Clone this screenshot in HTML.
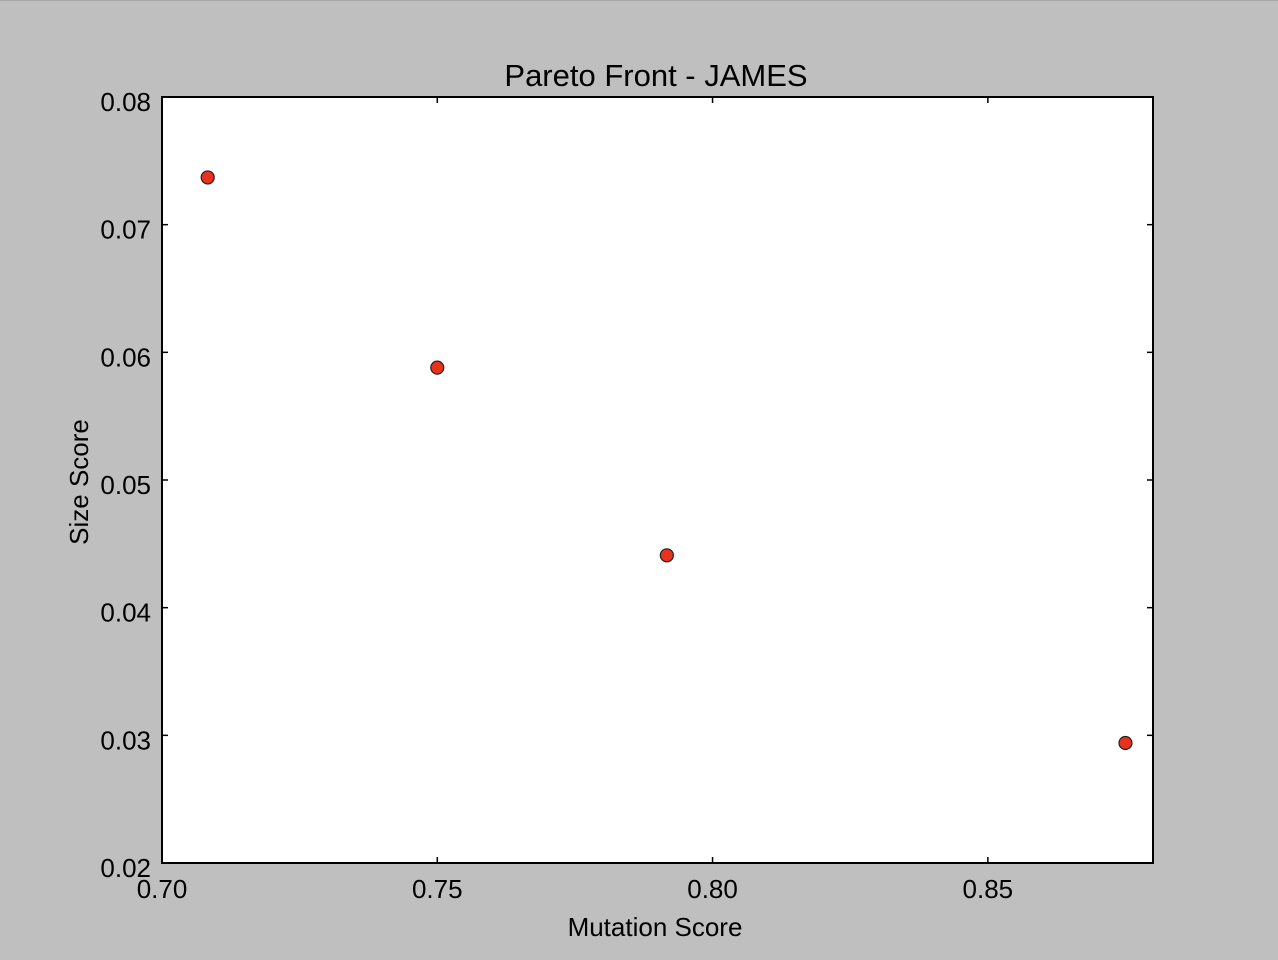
<!DOCTYPE html>
<html><head><meta charset="utf-8"><style>
html,body{margin:0;padding:0;background:#bfbfbf;}
svg{display:block;font-family:"Liberation Sans",sans-serif;}
</style></head><body>
<svg id="chart" width="1278" height="960">
<rect x="0" y="0" width="1278" height="960" fill="#bfbfbf"/>
<line x1="0" y1="0.5" x2="1278" y2="0.5" stroke="#a8a8a8"/>
<rect x="162" y="97" width="991" height="766" fill="#fff"/>
<g id="ticks"></g>
<g id="points"></g>
<rect x="162" y="97" width="991" height="766" fill="none" stroke="#000" stroke-width="2"/>
<text x="656" y="86" font-size="31" text-anchor="middle">Pareto Front - JAMES</text>
<text x="655" y="936" font-size="26" text-anchor="middle">Mutation Score</text>
<text transform="translate(88,482) rotate(-90)" font-size="26" text-anchor="middle">Size Score</text>
</svg>
<script>
const xTicks=[0.70,0.75,0.80,0.85];
const xTickLabels=["0.70","0.75","0.80","0.85"];
const yTicks=[0.02,0.03,0.04,0.05,0.06,0.07,0.08];
const yTickLabels=["0.02","0.03","0.04","0.05","0.06","0.07","0.08"];
const mutationScores=[0.7083,0.75,0.7917,0.875];
const sizeScores=[0.0737,0.0588,0.0441,0.0294];
const NS="http://www.w3.org/2000/svg";
const L=162,R=1153,T=97,B=863;
const xMin=0.70,xMax=0.88,yMin=0.02,yMax=0.08;
function sx(v){return L+(v-xMin)/(xMax-xMin)*(R-L);}
function sy(v){return B-(v-yMin)/(yMax-yMin)*(B-T);}
function mk(tag,attrs){const e=document.createElementNS(NS,tag);for(const k in attrs)e.setAttribute(k,attrs[k]);return e;}
const tg=document.getElementById('ticks');
xTicks.forEach((v,i)=>{
  const x=sx(v);
  const t1=mk('line',{x1:x,y1:B,x2:x,y2:B-6,stroke:'#000','stroke-width':1.5});
  
  
  tg.appendChild(t1);
  const t2=mk('line',{x1:x,y1:T,x2:x,y2:T+6,stroke:'#000','stroke-width':1.5});
  
  
  tg.appendChild(t2);
  const lb=mk('text',{x:x,y:B+35,'font-size':26,'text-anchor':'middle'});
  lb.textContent=xTickLabels[i];
  
  
  tg.appendChild(lb);
});
yTicks.forEach((v,i)=>{
  const y=sy(v);
  const t1=mk('line',{x1:L,y1:y,x2:L+6,y2:y,stroke:'#000','stroke-width':1.5});
  
  
  tg.appendChild(t1);
  const t2=mk('line',{x1:R,y1:y,x2:R-6,y2:y,stroke:'#000','stroke-width':1.5});
  
  
  tg.appendChild(t2);
  const lb=mk('text',{x:151,y:y+14,'font-size':26,'text-anchor':'end'});
  lb.textContent=yTickLabels[i];
  
  
  tg.appendChild(lb);
});
const pg=document.getElementById('points');
mutationScores.forEach((m,i)=>{
  const c=mk('circle',{cx:sx(m),cy:sy(sizeScores[i]),r:6.5,fill:'#e8321e',stroke:'#222','stroke-width':1.2});
  
  
  pg.appendChild(c);
});
</script>
</body></html>
